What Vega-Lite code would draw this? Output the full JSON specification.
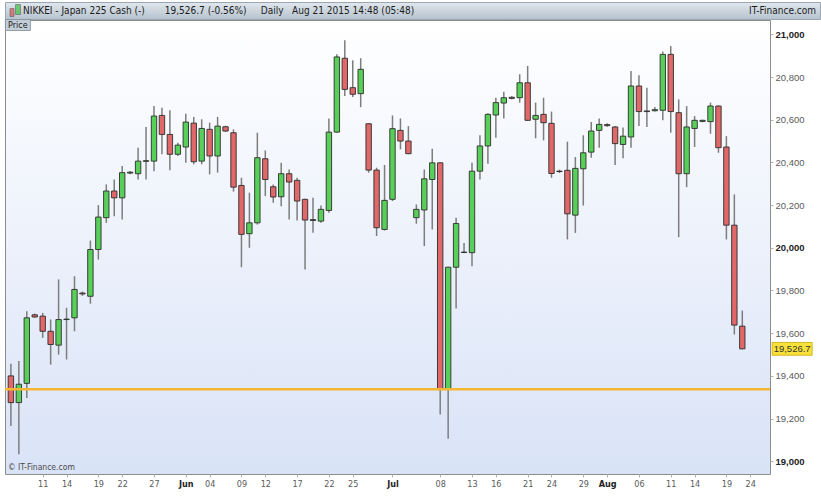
{
  "$schema": "https://vega.github.io/schema/vega-lite/v6.json",
  "background": "white",
  "padding": {"left": 3, "top": 1, "right": 3, "bottom": 3},
  "spacing": 1,
  "bounds": "flush",
  "config": {"font": "Liberation Sans"},
  "datasets": {
    "ohlc": [
      {"d":"2015-05-06","o":19400,"h":19457,"l":19165,"c":19275},
      {"d":"2015-05-07","o":19275,"h":19470,"l":19033,"c":19361},
      {"d":"2015-05-08","o":19365,"h":19703,"l":19297,"c":19672},
      {"d":"2015-05-10","o":19686,"h":19692,"l":19672,"c":19676},
      {"d":"2015-05-11","o":19680,"h":19695,"l":19578,"c":19609},
      {"d":"2015-05-12","o":19609,"h":19664,"l":19453,"c":19547},
      {"d":"2015-05-13","o":19544,"h":19852,"l":19500,"c":19664},
      {"d":"2015-05-14","o":19664,"h":19719,"l":19477,"c":19666},
      {"d":"2015-05-15","o":19672,"h":19867,"l":19609,"c":19805},
      {"d":"2015-05-17","o":19788,"h":19795,"l":19775,"c":19784},
      {"d":"2015-05-18","o":19773,"h":20034,"l":19738,"c":19992},
      {"d":"2015-05-19","o":19992,"h":20200,"l":19945,"c":20144},
      {"d":"2015-05-20","o":20141,"h":20297,"l":20117,"c":20266},
      {"d":"2015-05-21","o":20266,"h":20320,"l":20148,"c":20234},
      {"d":"2015-05-22","o":20234,"h":20383,"l":20133,"c":20352},
      {"d":"2015-05-24","o":20350,"h":20360,"l":20345,"c":20354},
      {"d":"2015-05-25","o":20347,"h":20469,"l":20320,"c":20406},
      {"d":"2015-05-26","o":20405,"h":20566,"l":20320,"c":20408},
      {"d":"2015-05-27","o":20406,"h":20664,"l":20359,"c":20617},
      {"d":"2015-05-28","o":20620,"h":20656,"l":20438,"c":20531},
      {"d":"2015-05-29","o":20531,"h":20644,"l":20363,"c":20438},
      {"d":"2015-05-31","o":20438,"h":20492,"l":20430,"c":20481},
      {"d":"2015-06-01","o":20472,"h":20628,"l":20398,"c":20589},
      {"d":"2015-06-02","o":20584,"h":20613,"l":20391,"c":20403},
      {"d":"2015-06-03","o":20406,"h":20602,"l":20391,"c":20559},
      {"d":"2015-06-04","o":20555,"h":20586,"l":20344,"c":20430},
      {"d":"2015-06-05","o":20430,"h":20613,"l":20352,"c":20570},
      {"d":"2015-06-07","o":20567,"h":20572,"l":20543,"c":20547},
      {"d":"2015-06-08","o":20539,"h":20555,"l":20263,"c":20284},
      {"d":"2015-06-09","o":20292,"h":20328,"l":19909,"c":20063},
      {"d":"2015-06-10","o":20066,"h":20258,"l":20000,"c":20117},
      {"d":"2015-06-11","o":20117,"h":20539,"l":20109,"c":20422},
      {"d":"2015-06-12","o":20417,"h":20456,"l":20242,"c":20320},
      {"d":"2015-06-14","o":20286,"h":20297,"l":20211,"c":20238},
      {"d":"2015-06-15","o":20239,"h":20398,"l":20195,"c":20347},
      {"d":"2015-06-16","o":20347,"h":20367,"l":20133,"c":20308},
      {"d":"2015-06-17","o":20316,"h":20328,"l":20128,"c":20219},
      {"d":"2015-06-18","o":20227,"h":20230,"l":19898,"c":20130},
      {"d":"2015-06-19","o":20128,"h":20234,"l":20070,"c":20132},
      {"d":"2015-06-21","o":20125,"h":20198,"l":20117,"c":20180},
      {"d":"2015-06-22","o":20175,"h":20606,"l":20164,"c":20542},
      {"d":"2015-06-23","o":20542,"h":20906,"l":20539,"c":20894},
      {"d":"2015-06-24","o":20888,"h":20972,"l":20711,"c":20742},
      {"d":"2015-06-25","o":20750,"h":20878,"l":20706,"c":20719},
      {"d":"2015-06-26","o":20722,"h":20888,"l":20659,"c":20836},
      {"d":"2015-06-28","o":20581,"h":20584,"l":20352,"c":20364},
      {"d":"2015-06-29","o":20364,"h":20375,"l":20055,"c":20094},
      {"d":"2015-06-30","o":20086,"h":20388,"l":20081,"c":20222},
      {"d":"2015-07-01","o":20227,"h":20620,"l":20219,"c":20558},
      {"d":"2015-07-02","o":20550,"h":20606,"l":20461,"c":20500},
      {"d":"2015-07-03","o":20500,"h":20570,"l":20438,"c":20441},
      {"d":"2015-07-05","o":20141,"h":20203,"l":20113,"c":20180},
      {"d":"2015-07-06","o":20177,"h":20367,"l":20008,"c":20323},
      {"d":"2015-07-07","o":20320,"h":20464,"l":20086,"c":20398},
      {"d":"2015-07-08","o":20398,"h":20400,"l":19219,"c":19336},
      {"d":"2015-07-09","o":19336,"h":19911,"l":19106,"c":19909},
      {"d":"2015-07-10","o":19909,"h":20141,"l":19716,"c":20114},
      {"d":"2015-07-12","o":19980,"h":20023,"l":19975,"c":19978},
      {"d":"2015-07-13","o":19977,"h":20398,"l":19914,"c":20359},
      {"d":"2015-07-14","o":20359,"h":20527,"l":20320,"c":20477},
      {"d":"2015-07-15","o":20477,"h":20630,"l":20394,"c":20625},
      {"d":"2015-07-16","o":20622,"h":20703,"l":20516,"c":20680},
      {"d":"2015-07-17","o":20678,"h":20731,"l":20606,"c":20703},
      {"d":"2015-07-19","o":20705,"h":20710,"l":20695,"c":20700},
      {"d":"2015-07-20","o":20703,"h":20813,"l":20680,"c":20773},
      {"d":"2015-07-21","o":20773,"h":20852,"l":20594,"c":20597},
      {"d":"2015-07-22","o":20602,"h":20680,"l":20513,"c":20620},
      {"d":"2015-07-23","o":20625,"h":20703,"l":20503,"c":20586},
      {"d":"2015-07-24","o":20583,"h":20638,"l":20328,"c":20348},
      {"d":"2015-07-26","o":20357,"h":20366,"l":20350,"c":20359},
      {"d":"2015-07-27","o":20363,"h":20497,"l":20039,"c":20159},
      {"d":"2015-07-28","o":20153,"h":20425,"l":20070,"c":20372},
      {"d":"2015-07-29","o":20370,"h":20527,"l":20198,"c":20445},
      {"d":"2015-07-30","o":20448,"h":20589,"l":20422,"c":20547},
      {"d":"2015-07-31","o":20550,"h":20606,"l":20469,"c":20578},
      {"d":"2015-08-02","o":20577,"h":20583,"l":20567,"c":20572},
      {"d":"2015-08-03","o":20566,"h":20570,"l":20388,"c":20488},
      {"d":"2015-08-04","o":20484,"h":20563,"l":20419,"c":20523},
      {"d":"2015-08-05","o":20519,"h":20828,"l":20469,"c":20758},
      {"d":"2015-08-06","o":20758,"h":20808,"l":20570,"c":20638},
      {"d":"2015-08-07","o":20641,"h":20750,"l":20566,"c":20638},
      {"d":"2015-08-09","o":20642,"h":20660,"l":20638,"c":20647},
      {"d":"2015-08-10","o":20644,"h":20919,"l":20597,"c":20906},
      {"d":"2015-08-11","o":20906,"h":20945,"l":20539,"c":20638},
      {"d":"2015-08-12","o":20633,"h":20695,"l":20050,"c":20347},
      {"d":"2015-08-13","o":20347,"h":20664,"l":20284,"c":20566},
      {"d":"2015-08-14","o":20559,"h":20617,"l":20472,"c":20597},
      {"d":"2015-08-16","o":20592,"h":20600,"l":20588,"c":20597},
      {"d":"2015-08-17","o":20591,"h":20680,"l":20534,"c":20664},
      {"d":"2015-08-18","o":20664,"h":20667,"l":20445,"c":20469},
      {"d":"2015-08-19","o":20472,"h":20523,"l":20039,"c":20106},
      {"d":"2015-08-20","o":20106,"h":20250,"l":19594,"c":19638},
      {"d":"2015-08-21","o":19633,"h":19706,"l":19525,"c":19526.7}
    ]
  },
  "vconcat": [
    {
      "width": 815,
      "height": 17,
      "view": {"stroke": "#9aa6b2", "fill": {"gradient": "linear", "x1": 0, "y1": 0, "x2": 0, "y2": 1, "stops": [{"offset": 0, "color": "#e1e7ed"}, {"offset": 1, "color": "#b5c2ce"}]}},
      "layer": [
        {
          "data": {"values": [{"k": "up"}]},
          "mark": {"type": "point", "shape": "M-0.5,-1H0.5V1H-0.5Z", "filled": true, "size": 64, "color": "#e05050", "stroke": "#333", "strokeWidth": 0.6, "xOffset": 7, "yOffset": 2},
          "encoding": {"x": {"datum": 0, "type": "quantitative", "scale": {"domain": [0, 1]}, "axis": null}}
        },
        {
          "data": {"values": [{"k": "dn"}]},
          "mark": {"type": "point", "shape": "M-0.5,-1H0.5V1H-0.5Z", "filled": true, "size": 100, "color": "#40c040", "stroke": "#333", "strokeWidth": 0.6, "xOffset": 13, "yOffset": -1},
          "encoding": {"x": {"datum": 0, "type": "quantitative"}}
        },
        {
          "data": {"values": [{"label": "NIKKEI - Japan 225 Cash (-)\u00a0\u00a0\u00a0\u00a0\u00a0\u00a0\u00a019,526.7 (-0.56%)\u00a0\u00a0\u00a0\u00a0\u00a0Daily\u00a0\u00a0\u00a0Aug 21 2015 14:48 (05:48)"}]},
          "mark": {"type": "text", "align": "left", "baseline": "middle", "dx": 18, "fontSize": 10, "font": "'Liberation Sans Narrow', 'DejaVu Sans Condensed', 'Liberation Sans', sans-serif", "color": "#1c1c1c"},
          "encoding": {"x": {"datum": 0, "type": "quantitative"}, "text": {"field": "label"}}
        },
        {
          "data": {"values": [{"label": "IT-Finance.com"}]},
          "mark": {"type": "text", "align": "right", "baseline": "middle", "dx": -4, "fontSize": 10, "font": "'Liberation Sans Narrow', 'DejaVu Sans Condensed', 'Liberation Sans', sans-serif", "color": "#1c1c1c"},
          "encoding": {"x": {"datum": 1, "type": "quantitative"}, "text": {"field": "label"}}
        }
      ]
    },
    {
      "width": 765,
      "height": 454,
      "view": {"stroke": "#8c8c8c", "strokeWidth": 1, "fill": {"gradient": "linear", "x1": 0, "y1": 0, "x2": 0, "y2": 1, "stops": [{"offset": 0, "color": "#ffffff"}, {"offset": 1, "color": "#d9e3f7"}]}},
      "layer": [
        {
          "data": {"name": "ohlc"},
          "mark": {"type": "rule", "color": "#7d7d7d", "strokeWidth": 1.5},
          "encoding": {
            "x": {
              "field": "d", "type": "ordinal",
              "scale": {
                "type": "point", "padding": 0.613, "align": 0.605,
                "domain": ["2015-05-06","2015-05-07","2015-05-08","2015-05-10","2015-05-11","2015-05-12","2015-05-13","2015-05-14","2015-05-15","2015-05-17","2015-05-18","2015-05-19","2015-05-20","2015-05-21","2015-05-22","2015-05-24","2015-05-25","2015-05-26","2015-05-27","2015-05-28","2015-05-29","2015-05-31","2015-06-01","2015-06-02","2015-06-03","2015-06-04","2015-06-05","2015-06-07","2015-06-08","2015-06-09","2015-06-10","2015-06-11","2015-06-12","2015-06-14","2015-06-15","2015-06-16","2015-06-17","2015-06-18","2015-06-19","2015-06-21","2015-06-22","2015-06-23","2015-06-24","2015-06-25","2015-06-26","2015-06-28","2015-06-29","2015-06-30","2015-07-01","2015-07-02","2015-07-03","2015-07-05","2015-07-06","2015-07-07","2015-07-08","2015-07-09","2015-07-10","2015-07-12","2015-07-13","2015-07-14","2015-07-15","2015-07-16","2015-07-17","2015-07-19","2015-07-20","2015-07-21","2015-07-22","2015-07-23","2015-07-24","2015-07-26","2015-07-27","2015-07-28","2015-07-29","2015-07-30","2015-07-31","2015-08-02","2015-08-03","2015-08-04","2015-08-05","2015-08-06","2015-08-07","2015-08-09","2015-08-10","2015-08-11","2015-08-12","2015-08-13","2015-08-14","2015-08-16","2015-08-17","2015-08-18","2015-08-19","2015-08-20","2015-08-21","2015-08-24","2015-08-25","2015-08-26"]
              },
              "axis": {
                "title": null,
                "values": ["2015-05-11","2015-05-14","2015-05-19","2015-05-22","2015-05-27","2015-06-01","2015-06-04","2015-06-09","2015-06-12","2015-06-17","2015-06-22","2015-06-25","2015-07-01","2015-07-08","2015-07-13","2015-07-16","2015-07-21","2015-07-24","2015-07-29","2015-08-02","2015-08-06","2015-08-11","2015-08-14","2015-08-19","2015-08-24"],
                "labelExpr": "datum.value == '2015-06-01' ? 'Jun' : datum.value == '2015-07-01' ? 'Jul' : datum.value == '2015-08-02' ? 'Aug' : slice(datum.value, 8)",
                "labelFontWeight": {"condition": {"test": "indexof(['2015-06-01','2015-07-01','2015-08-02'], datum.value) >= 0", "value": "bold"}, "value": "normal"},
                "labelColor": {"condition": {"test": "indexof(['2015-06-01','2015-07-01','2015-08-02'], datum.value) >= 0", "value": "#222222"}, "value": "#5a5a5a"},
                "labelAngle": 0,
                "labelFont": "'Liberation Sans Narrow', 'DejaVu Sans Condensed', 'Liberation Sans', sans-serif",
                "labelFontSize": 9,
                "labelPadding": 2,
                "labelOverlap": false,
                "tickSize": 3,
                "tickColor": "#b0b0b0",
                "domain": false,
                "grid": false
              }
            },
            "y": {
              "field": "l", "type": "quantitative",
              "scale": {"domain": [18940.5, 21067], "nice": false, "zero": false},
              "axis": {
                "orient": "right",
                "title": null,
                "values": [19000,19100,19200,19300,19400,19500,19600,19700,19800,19900,20000,20100,20200,20300,20400,20500,20600,20700,20800,20900,21000],
                "labelExpr": "datum.value % 200 == 0 ? format(datum.value, ',') : ''",
                "labelFontWeight": {"condition": {"test": "datum.value % 1000 == 0", "value": "bold"}, "value": "normal"},
                "labelColor": {"condition": {"test": "datum.value % 1000 == 0", "value": "#222222"}, "value": "#5a5a5a"},
                "labelFontSize": 9.5,
                "labelFont": "Liberation Sans",
                "labelPadding": 2,
                "labelOverlap": false,
                "labelFlush": false,
                "tickSize": 3,
                "tickColor": "#b0b0b0",
                "domain": false,
                "grid": false
              }
            },
            "y2": {"field": "h"}
          }
        },
        {
          "data": {"name": "ohlc"},
          "mark": {"type": "bar", "size": 5.4, "stroke": "#2e2e2e", "strokeWidth": 0.9},
          "encoding": {
            "x": {"field": "d", "type": "ordinal"},
            "y": {"field": "o", "type": "quantitative"},
            "y2": {"field": "c"},
            "color": {"condition": {"test": "datum.c >= datum.o", "value": "#58cf58"}, "value": "#e06868"}
          }
        },
        {
          "data": {"values": [{"level": 19337}]},
          "mark": {"type": "rule", "color": "#f5b631", "strokeWidth": 2.5},
          "encoding": {"y": {"field": "level", "type": "quantitative"}}
        },
        {
          "data": {"values": [{"t": "\u00a9 IT-Finance.com"}]},
          "mark": {"type": "text", "align": "left", "baseline": "bottom", "dx": -3, "dy": -2, "fontSize": 8.5, "font": "'Liberation Sans Narrow', 'DejaVu Sans Condensed', 'Liberation Sans', sans-serif", "color": "#4a4a4a"},
          "encoding": {"x": {"datum": "2015-05-06", "type": "ordinal"}, "y": {"datum": 18940.5, "type": "quantitative"}, "text": {"field": "t"}}
        },
        {
          "data": {"values": [{"t": "Price"}]},
          "mark": {"type": "point", "shape": "M-1,-0.44H1V0.44H-1Z", "filled": true, "size": 625, "color": "#c3cdd7", "stroke": "#7f8c98", "strokeWidth": 0.8, "opacity": 1, "xOffset": 7, "yOffset": 5},
          "encoding": {"x": {"datum": "2015-05-06", "type": "ordinal"}, "y": {"datum": 21067, "type": "quantitative"}}
        },
        {
          "data": {"values": [{"t": "Price"}]},
          "mark": {"type": "text", "align": "center", "baseline": "middle", "dx": 7, "dy": 5, "fontSize": 9, "font": "'Liberation Sans Narrow', 'DejaVu Sans Condensed', 'Liberation Sans', sans-serif", "color": "#222"},
          "encoding": {"x": {"datum": "2015-05-06", "type": "ordinal"}, "y": {"datum": 21067, "type": "quantitative"}, "text": {"field": "t"}}
        },
        {
          "data": {"values": [{"p": 19526.7, "t": "19,526.7"}]},
          "mark": {"type": "point", "shape": "M-1,-0.32H1V0.32H-1Z", "filled": true, "size": 1600, "color": "#f7e13a", "stroke": "#c9a800", "strokeWidth": 0.8, "opacity": 1, "xOffset": 26},
          "encoding": {"x": {"datum": "2015-08-26", "type": "ordinal"}, "y": {"field": "p", "type": "quantitative"}}
        },
        {
          "data": {"values": [{"p": 19526.7, "t": "19,526.7"}]},
          "mark": {"type": "text", "align": "center", "baseline": "middle", "dx": 26, "fontSize": 9.5, "font": "Liberation Sans", "color": "#333"},
          "encoding": {"x": {"datum": "2015-08-26", "type": "ordinal"}, "y": {"field": "p", "type": "quantitative"}, "text": {"field": "t"}}
        }
      ]
    }
  ]
}
